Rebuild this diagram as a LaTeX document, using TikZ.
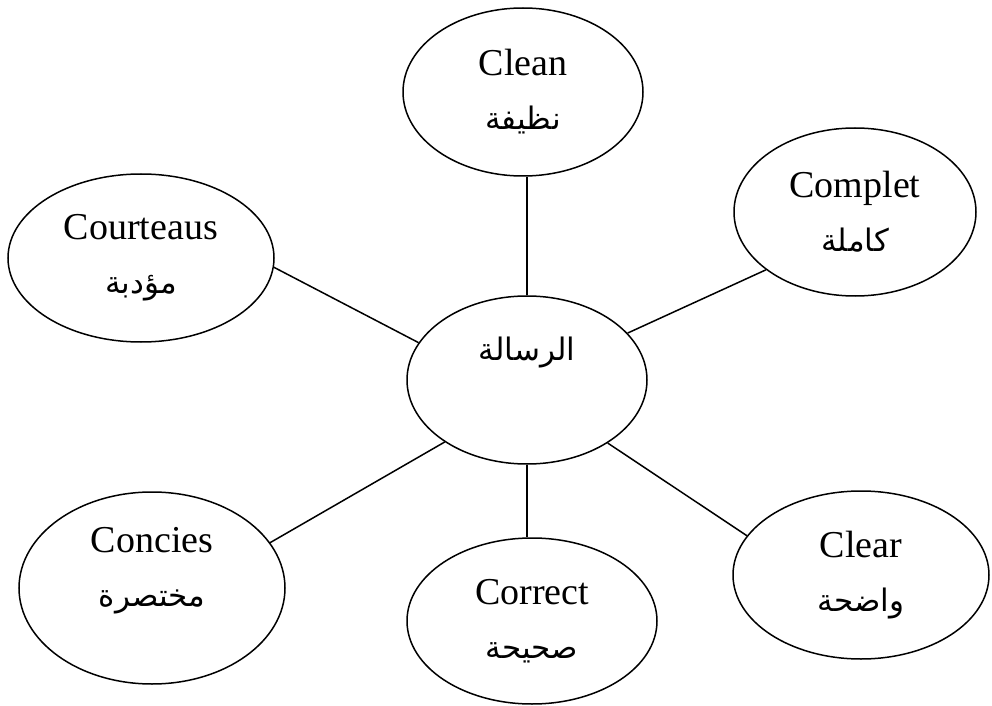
\documentclass[tikz,border=0pt]{standalone}
\usepackage{fontspec}
\setmainfont{Liberation Serif}
\newfontfamily\arabicfont[Script=Arabic]{DejaVu Sans}
\TeXXeTstate=1
\usetikzlibrary{shapes.geometric}
\newcommand{\ar}[1]{{\arabicfont\fontsize{15.5}{27}\selectfont\beginR #1\endR}}
\begin{document}
\begin{tikzpicture}[x=0.5pt,y=-0.5pt,
  bubble/.style={ellipse,draw,line width=0.75pt,inner sep=0pt,align=center,
     font=\fontsize{19}{27}\selectfont},
  link/.style={line width=0.75pt}]
\useasboundingbox (0,0) rectangle (992,706);
\node[bubble,minimum width=120pt,minimum height=84pt] (c) at (527,380) {\ar{الرسالة}\\[-4pt]\strut};
\node[bubble,minimum width=120pt,minimum height=84pt] (clean) at (523,92) {Clean\\\ar{نظيفة}};
\node[bubble,minimum width=121pt,minimum height=84pt] (complet) at (855,212) {Complet\\\ar{كاملة}};
\node[bubble,minimum width=133pt,minimum height=84pt] (court) at (141,258) {Courteaus\\\ar{مؤدبة}};
\node[bubble,minimum width=133pt,minimum height=96pt] (conc) at (152,588) {Concies\\\ar{مختصرة}\\[-6pt]\mbox{}};
\node[bubble,minimum width=125pt,minimum height=83pt] (corr) at (532,621) {Correct\\\ar{صحيحة}};
\node[bubble,minimum width=128pt,minimum height=84pt] (clear) at (861,575) {Clear\\\ar{واضحة}};
\draw[link] (c.north) -- (c.north |- clean.south);
\draw[link] (c.south) -- (c.south |- corr.north);
\draw[link] (c.25.9) -- (complet.-147.2);
\draw[link] (c.161.3) -- (court.-4.3);
\draw[link] (c.-143) -- (conc.21.6);
\draw[link] (c.-38.7) -- (clear.161.7);
\end{tikzpicture}
\end{document}
